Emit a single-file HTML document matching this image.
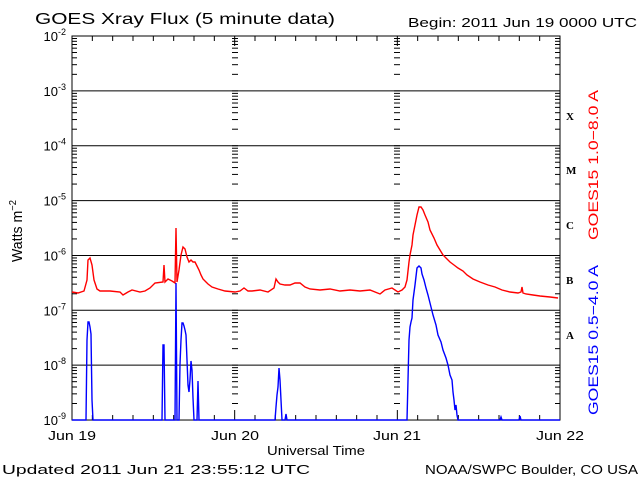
<!DOCTYPE html>
<html><head><meta charset="utf-8"><style>
html,body{margin:0;padding:0;background:#fff;}
svg{display:block;font-family:"Liberation Sans","DejaVu Sans",sans-serif;}
</style></head><body>
<svg id="s" width="640" height="480" xmlns="http://www.w3.org/2000/svg">
<rect width="640" height="480" fill="#fff"/>
<g id="ax" stroke="#000" stroke-width="1" fill="none"></g>
<polyline fill="none" stroke="#ff0000" stroke-width="1.4" points="72,292 78,293 84,291 87,280 88,260 90,258 92,265 94,280 97,289 100,291 110,291 120,292 123,295 128,292 132,290 140,292 145,291 150,288 155,283 163,282 164,265 165,282 168,279 172,281 175,283 176,228 177,282 179,270 181,255 183,247 185,249 187,257 189,262 191,260 193,262 195,262 197,266 199,270 201,275 203,279 206,282 208,284 212,287 218,289 225,291 235,292 240,291 244,288 248,291 252,291 260,290 268,292 274,288 276,279 278,282 280,284 285,285 290,285 295,283 300,283 305,287 310,289 320,290 330,289 340,291 350,290 360,291 370,290 380,294 385,290 392,288 398,292 402,290 405,287 407,280 409,262 410,255 412,245 413,235 415,225 417,215 419,207 421,207 423,210 425,215 428,222 430,230 434,238 437,245 440,250 443,255 447,259 450,262 454,265 458,268 463,271 467,275 473,279 480,282 488,285 495,287 502,290 510,292 518,293 521,292 522,287 523,293 526,294 533,295 540,296 550,297 558,298"/>
<polyline fill="none" stroke="#0000ff" stroke-width="1.4" points="72,420 86,420 87,340 88,322 89,322 90,327 91,334 91.5,368 92,400 93,420 162,420 163,345 164,345 165,420 175,420 176,283 177,420 179,420 180,364 181,340 182,323 183,323 184,326 185,330 186,335 187,360 188,385 189,392 190,380 191,361 192,370 193,398 194,420 197,420 198,381 199,420 275,420 276,407 277,395 278,387 279,368 280,380 281,400 282,420 285,420 286,414 287,420 406,420 407,420 408,380 409,340 410,327 411,322 412,318 413,300 415,285 417,268 419,266 421,268 422,274 424,280 426,288 428,295 430,303 433,315 436,325 438,335 441,342 443,350 446,358 448,365 450,375 452,380 453,392 454,400 455,410 456,405 457,415 458,420 500,420 501,417 502,420 519,420 520,416 521,420 560,420"/>
<text x="35" y="24" font-size="16" textLength="300" lengthAdjust="spacingAndGlyphs">GOES Xray Flux (5 minute data)</text>
<text x="408" y="27" font-size="13" textLength="229" lengthAdjust="spacingAndGlyphs">Begin:  2011 Jun 19 0000 UTC</text>
<g font-size="13" text-anchor="end" id="yl"></g>
<text transform="translate(22,231) rotate(-90)" text-anchor="middle" font-size="15" textLength="62" lengthAdjust="spacingAndGlyphs">Watts m<tspan dy="-6" font-size="10">−2</tspan></text>
<g font-family="Liberation Serif,serif" font-weight="bold" font-size="11">
<text x="566" y="120">X</text><text x="566" y="174">M</text><text x="566" y="229">C</text><text x="566" y="284">B</text><text x="566" y="339">A</text>
</g>
<text transform="translate(598,165) rotate(-90)" text-anchor="middle" font-size="14" fill="#ff0000" textLength="150" lengthAdjust="spacingAndGlyphs">GOES15 1.0−8.0 A</text>
<text transform="translate(598,340) rotate(-90)" text-anchor="middle" font-size="14" fill="#0000ff" textLength="150" lengthAdjust="spacingAndGlyphs">GOES15 0.5−4.0 A</text>
<g font-size="13" text-anchor="middle">
<text x="72" y="440" textLength="48" lengthAdjust="spacingAndGlyphs">Jun 19</text><text x="235" y="440" textLength="48" lengthAdjust="spacingAndGlyphs">Jun 20</text><text x="397" y="440" textLength="48" lengthAdjust="spacingAndGlyphs">Jun 21</text><text x="560" y="440" textLength="48" lengthAdjust="spacingAndGlyphs">Jun 22</text>
<text x="316" y="455" textLength="98" lengthAdjust="spacingAndGlyphs">Universal Time</text>
</g>
<text x="2" y="474" font-size="13" textLength="308" lengthAdjust="spacingAndGlyphs">Updated 2011 Jun 21 23:55:12 UTC</text>
<text x="425" y="474" font-size="13" textLength="213" lengthAdjust="spacingAndGlyphs">NOAA/SWPC Boulder, CO USA</text>
</svg>
<script>
var NS="http://www.w3.org/2000/svg",ax=document.getElementById('ax'),yl=document.getElementById('yl');
function L(x1,y1,x2,y2){var l=document.createElementNS(NS,'line');l.setAttribute('x1',x1);l.setAttribute('y1',y1);l.setAttribute('x2',x2);l.setAttribute('y2',y2);ax.appendChild(l);}
var X0=72,X1=560,Y0=36,D=54.86;
function Y(lg){return Y0+(-2-lg)*D;}
var r=document.createElementNS(NS,'rect');r.setAttribute('x',X0);r.setAttribute('y',Y0);r.setAttribute('width',X1-X0);r.setAttribute('height',Y(-9)-Y0);ax.appendChild(r);
for(var e=-3;e>=-8;e--)L(X0,Y(e),X1,Y(e));
for(var e=-9;e<-2;e++){for(var m=2;m<=9;m++){var y=Y(e+Math.log10(m));
 L(X0,y,X0+5,y);L(X1-5,y,X1,y);L(235-3,y,235+3,y);L(397-3,y,397+3,y);}}
for(var e=-8;e<=-2;e++){var y=Y(e);L(232,y,238,y);L(394,y,400,y);}
for(var i=1;i<24;i++){var x=X0+(X1-X0)*i/24;var h=(i%8==0)?10:5;L(x,Y0,x,Y0+h);L(x,Y(-9),x,Y(-9)-h);}
for(var e=-2;e>=-9;e--){var t=document.createElementNS(NS,'text');t.setAttribute('x',66);t.setAttribute('y',Y(e)+5);t.innerHTML='10<tspan dy="-6" font-size="9">'+e+'</tspan>';yl.appendChild(t);}
</script>
</body></html>
